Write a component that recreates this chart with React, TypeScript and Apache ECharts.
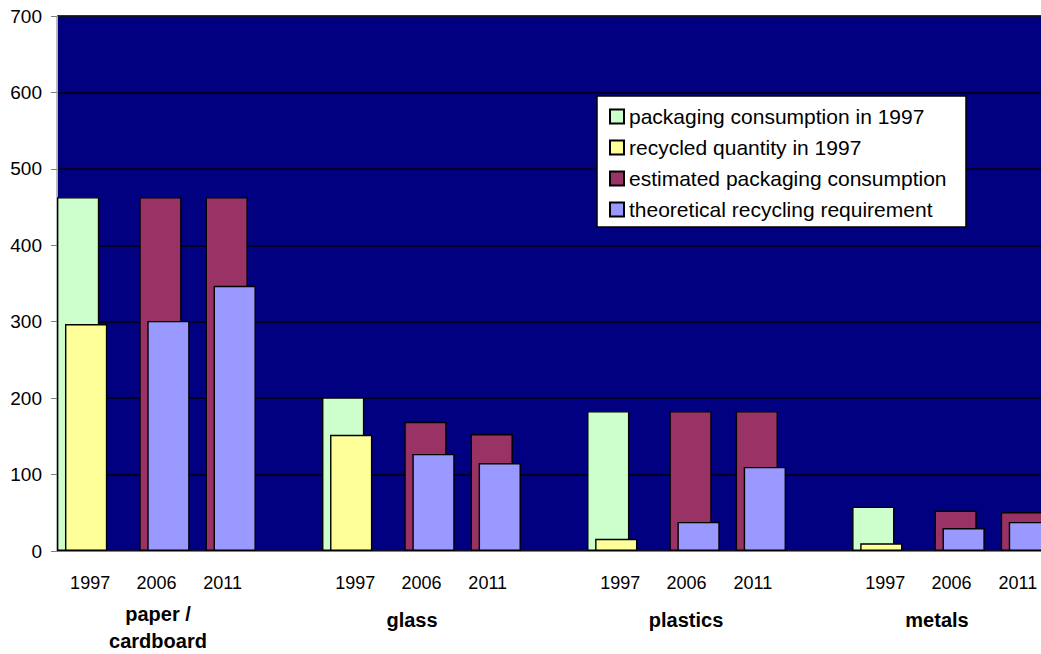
import React, { useEffect, useRef } from "react";
import * as echarts from "echarts";

// Category slots: three years per material, with an empty slot between groups
const categories = [
  "1997", "2006", "2011", "",
  "1997", "2006", "2011", "",
  "1997", "2006", "2011", "",
  "1997", "2006", "2011",
];

const seriesNames = [
  "packaging consumption in 1997",
  "recycled quantity in 1997",
  "estimated packaging consumption",
  "theoretical recycling requirement",
];

// values in thousand tonnes, "-" where a series has no bar
const consumption1997 = [463, "-", "-", "-", 201, "-", "-", "-", 183, "-", "-", "-", 58, "-", "-"];
const recycled1997 = [297, "-", "-", "-", 152, "-", "-", "-", 16, "-", "-", "-", 10, "-", "-"];
const estimatedConsumption = ["-", 463, 463, "-", "-", 169, 153, "-", "-", 183, 183, "-", "-", 53, 51];
const recyclingRequirement = ["-", 301, 347, "-", "-", 127, 115, "-", "-", 38, 110, "-", "-", 30, 38];

const groupLabels = [
  { text: "paper /", x: 158, y: 614 },
  { text: "cardboard", x: 158, y: 641 },
  { text: "glass", x: 412, y: 620 },
  { text: "plastics", x: 686, y: 620 },
  { text: "metals", x: 937, y: 620 },
];

const colors = ["#CCFFCC", "#FFFF99", "#993366", "#9999FF"];
const FONT = "'Liberation Sans', Arial, sans-serif";

export default function App() {
  const ref = useRef<HTMLDivElement>(null);

  useEffect(() => {
    if (!ref.current) return;
    const chart = echarts.init(ref.current, null, { renderer: "svg" });
    const values = [consumption1997, recycled1997, estimatedConsumption, recyclingRequirement];

    chart.setOption({
      animation: false,
      backgroundColor: "#ffffff",
      grid: {
        left: 57,
        top: 16,
        width: 994,
        height: 535,
        show: true,
        backgroundColor: "#000080",
        borderColor: "#808080",
        borderWidth: 1,
      },
      xAxis: {
        type: "category",
        data: categories,
        axisLine: { show: true, lineStyle: { color: "#808080", width: 1 } },
        axisTick: { show: false },
        axisLabel: {
          interval: 0,
          margin: 23,
          color: "#000",
          fontFamily: FONT,
          fontSize: 18,
        },
        splitLine: { show: false },
      },
      yAxis: {
        type: "value",
        min: 0,
        max: 700,
        interval: 100,
        axisLine: { show: true, lineStyle: { color: "#b0b0b0", width: 1 } },
        axisTick: { show: true, length: 6, lineStyle: { color: "#808080" } },
        axisLabel: {
          margin: 15,
          color: "#000",
          fontFamily: FONT,
          fontSize: 19,
          padding: [5, 0, 0, 0],
        },
        splitLine: { show: true, lineStyle: { color: "#000", width: 1.5 } },
      },
      legend: {
        orient: "vertical",
        left: 609,
        top: 106,
        padding: 0,
        itemWidth: 14,
        itemHeight: 14,
        itemGap: 10,
        icon: "rect",
        z: 10,
        textStyle: { color: "#000", fontFamily: FONT, fontSize: 21, lineHeight: 21 },
        data: seriesNames,
      },
      graphic: [
        {
          type: "rect",
          z: 5,
          shape: { x: 597, y: 96, width: 369, height: 131 },
          style: { fill: "#ffffff", stroke: "#000000", lineWidth: 1.5 },
        },
        ...groupLabels.map((g) => ({
          type: "text",
          x: g.x,
          y: g.y,
          style: {
            text: g.text,
            fill: "#000",
            font: `bold 20px ${FONT}`,
            textAlign: "center",
            textVerticalAlign: "middle",
          },
        })),
      ],
      series: seriesNames.map((name, i) => ({
        name,
        type: "bar",
        data: values[i],
        barWidth: 42.25,
        barGap: "-81%",
        itemStyle: { color: colors[i], borderColor: "#000", borderWidth: 1.4 },
      })),
    });

    return () => chart.dispose();
  }, []);

  // the plot runs a little past the right edge of the visible frame
  return (
    <div
      style={{
        position: "fixed",
        left: 0,
        top: 0,
        width: 1041,
        height: 654,
        overflow: "hidden",
        background: "#fff",
      }}
    >
      <div ref={ref} style={{ width: 1070, height: 654 }} />
    </div>
  );
}
